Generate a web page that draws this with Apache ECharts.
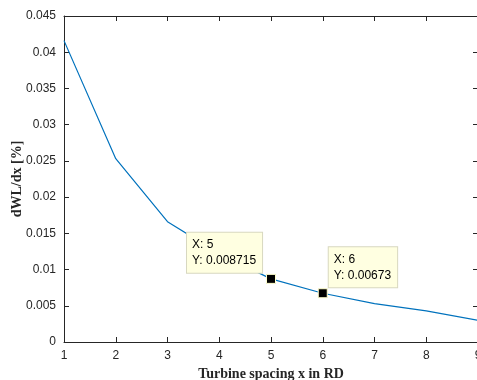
<!DOCTYPE html>
<html>
<head>
<meta charset="utf-8">
<script src="https://cdn.jsdelivr.net/npm/echarts@6/dist/echarts.min.js"></script>
<style>
  html, body { margin: 0; padding: 0; background: #fff; }
  #main { width: 477px; height: 380px; }
</style>
</head>
<body>
<div id="main"></div>
<script>
// turbine spacing (RD) and dWL/dx values
const spacing = [1, 2, 3, 4, 5, 6, 7, 8, 9];
const dwl = [0.0416, 0.0253, 0.0166, 0.0122, 0.008715, 0.00673, 0.0053, 0.0043, 0.0030];
// the two data tips shown on the figure
const tipX = [5, 6];
const tipY = [0.008715, 0.00673];

const axisColor = '#262626';
const labelFont = {color: axisColor, fontSize: 12, fontFamily: 'Liberation Sans, Arial, sans-serif'};

const myChart = echarts.init(document.getElementById('main'));

const tipOffsets = [[-79, -41], [11, -41]];

myChart.setOption({
  animation: false,
  grid: {left: 64, top: 16, right: -1, bottom: 38, containLabel: false, outerBoundsMode: 'none'},
  xAxis: [{
    type: 'value',
    min: 1,
    max: 9,
    interval: 1,
    position: 'bottom',
    name: 'Turbine spacing x in RD',
    nameLocation: 'middle',
    nameGap: 25,
    nameMoveOverlap: false,
    nameTextStyle: {fontFamily: 'Liberation Serif, Times New Roman, serif', fontWeight: 'bold', fontSize: 14, color: axisColor},
    axisLine: {onZero: false, lineStyle: {color: axisColor, width: 1}},
    axisTick: {inside: true, length: 5, lineStyle: {color: axisColor}},
    axisLabel: Object.assign({margin: 8}, labelFont),
    splitLine: {show: false}
  }, {
    type: 'value',
    min: 1,
    max: 9,
    interval: 1,
    position: 'top',
    axisLine: {onZero: false, lineStyle: {color: axisColor, width: 1}},
    axisTick: {inside: true, length: 5, lineStyle: {color: axisColor}},
    axisLabel: {show: false},
    splitLine: {show: false}
  }],
  yAxis: [{
    type: 'value',
    min: 0,
    max: 0.045,
    interval: 0.005,
    position: 'left',
    name: 'dWL/dx [%]',
    nameLocation: 'middle',
    nameGap: 40,
    nameMoveOverlap: false,
    nameTextStyle: {fontFamily: 'Liberation Serif, Times New Roman, serif', fontWeight: 'bold', fontSize: 14, color: axisColor},
    axisLine: {show: true, onZero: false, lineStyle: {color: axisColor, width: 1}},
    axisTick: {show: true, inside: true, length: 5, lineStyle: {color: axisColor}},
    axisLabel: Object.assign({margin: 8}, labelFont),
    splitLine: {show: false}
  }, {
    type: 'value',
    min: 0,
    max: 0.045,
    interval: 0.005,
    position: 'right',
    axisLine: {show: true, onZero: false, lineStyle: {color: axisColor, width: 1}},
    axisTick: {show: true, inside: true, length: 5, lineStyle: {color: axisColor}},
    axisLabel: {show: false},
    splitLine: {show: false}
  }],
  series: [{
    type: 'line',
    data: spacing.map((x, i) => [x, dwl[i]]),
    showSymbol: false,
    lineStyle: {color: '#0072BD', width: 1.2},
    z: 2
  }, {
    type: 'scatter',
    data: tipX.map((x, i) => ({
      value: [x, tipY[i]],
      label: {position: tipOffsets[i]}
    })),
    symbol: 'rect',
    symbolSize: 9,
    itemStyle: {color: '#000', borderColor: '#ffffcc', borderWidth: 1, opacity: 1},
    label: {
      show: true,
      align: 'left',
      verticalAlign: 'top',
      formatter: p => 'X: ' + p.value[0] + '\nY: ' + p.value[1],
      fontFamily: 'Liberation Sans, Arial, sans-serif',
      fontSize: 12,
      lineHeight: 16,
      color: '#000',
      backgroundColor: '#ffffe1',
      borderColor: '#d8d8c0',
      borderWidth: 1,
      padding: [4, 6, 4, 5]
    },
    z: 5
  }]
});
</script>
</body>
</html>
